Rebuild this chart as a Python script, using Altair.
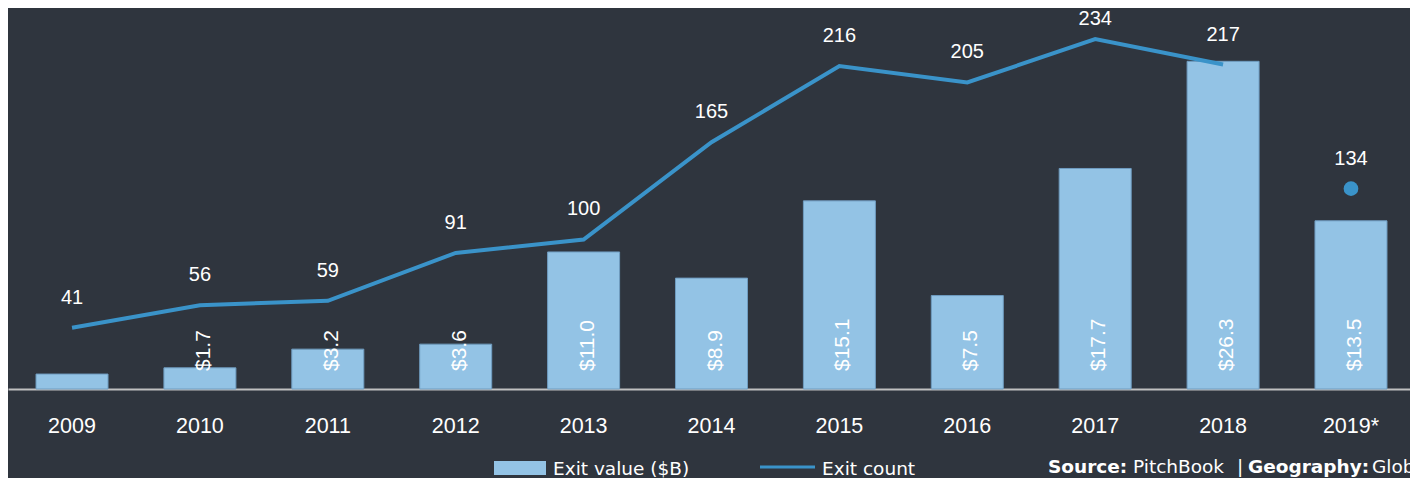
import altair as alt
import pandas as pd

# ---- data ----
years = ["2009", "2010", "2011", "2012", "2013", "2014", "2015", "2016", "2017", "2018", "2019*"]
exit_value = [1.2, 1.7, 3.2, 3.6, 11.0, 8.9, 15.1, 7.5, 17.7, 26.3, 13.5]
exit_count = [41, 56, 59, 91, 100, 165, 216, 205, 234, 217, 134]
partial_years = ["2019*"]
legend_labels = ["Exit value ($B)", "Exit count"]
source_parts = ["Source:", "PitchBook", "|", "Geography:", "Global"]

# ---- style ----
BG = "#2f353e"
BAR = "#93c3e5"
BAR_EDGE = "#6f9cc0"
LINE = "#3a93c9"
TXT = "#ffffff"
FONT = "Liberation Sans, Arial, sans-serif"
LFONT = "DejaVu Sans, sans-serif"

W, H = 1402, 381
VALUE_MAX = 30.58
COUNT_MAX = 254.8

df = pd.DataFrame({"year": years, "value": exit_value, "count": exit_count})
df["partial"] = df["year"].isin(partial_years)

x = alt.X(
    "year:N", sort=years,
    scale=alt.Scale(paddingInner=0.437, paddingOuter=0.1995, align=0.549),
    axis=alt.Axis(title=None, labelAngle=0, ticks=False, tickSize=0, grid=False,
                  domainColor="#c0c0c0", domainWidth=2, labelColor=TXT,
                  labelFont=FONT, labelFontSize=21.5, labelPadding=26),
)
value_scale = alt.Scale(domain=[0, VALUE_MAX], nice=False, zero=True)
count_scale = alt.Scale(domain=[0, COUNT_MAX], nice=False, zero=True)

base = alt.Chart(df)

bars = base.mark_bar(color=BAR, stroke=BAR_EDGE, strokeWidth=1).encode(
    x=x, y=alt.Y("value:Q", scale=value_scale, axis=None)
)

bar_labels = (
    base.transform_filter("datum.value >= 1.5")
    .transform_calculate(lab="'$' + format(datum.value, '.1f')")
    .mark_text(angle=270, align="left", baseline="middle", dy=4,
               font=FONT, fontSize=21, color=TXT)
    .encode(x=x, y=alt.value(H - 18), text="lab:N")
)

line = (
    base.transform_filter("!datum.partial")
    .mark_line(color=LINE, strokeWidth=4)
    .encode(x=x, y=alt.Y("count:Q", scale=count_scale, axis=None))
)

point = (
    base.transform_filter("datum.partial")
    .mark_circle(size=216, color=LINE, opacity=1)
    .encode(x=x, y=alt.Y("count:Q", scale=count_scale, axis=None))
)

count_labels = (
    base.transform_calculate(ly="min(datum.count, 227.3)")
    .mark_text(dy=-30, baseline="middle", align="center",
               font=FONT, fontSize=20, color=TXT)
    .encode(x=x, y=alt.Y("ly:Q", scale=count_scale, axis=None), text="count:Q")
)

one = alt.Chart(pd.DataFrame({"k": [0]}))

leg_rect = one.mark_rect(color=BAR).encode(
    x=alt.value(486), x2=alt.value(538), y=alt.value(453), y2=alt.value(467)
)
leg_line = one.mark_rule(color=LINE, strokeWidth=3).encode(
    x=alt.value(752), x2=alt.value(807), y=alt.value(459)
)
leg_t1 = one.mark_text(align="left", baseline="middle", font=LFONT, fontSize=18.5, color=TXT).encode(
    x=alt.value(545), y=alt.value(461), text=alt.value(legend_labels[0])
)
leg_t2 = one.mark_text(align="left", baseline="middle", font=LFONT, fontSize=18.5, color=TXT).encode(
    x=alt.value(814), y=alt.value(461), text=alt.value(legend_labels[1])
)

src_x = [1040, 1125, 1229, 1240, 1364]
src_bold = ["bold", "normal", "normal", "bold", "normal"]
src_layers = [
    one.mark_text(align="left", baseline="middle", font=LFONT, fontSize=18.5,
                  fontWeight=w, color=TXT).encode(
        x=alt.value(px), y=alt.value(459), text=alt.value(t))
    for t, px, w in zip(source_parts, src_x, src_bold)
]

chart = (
    alt.layer(bars, bar_labels, line, point, count_labels,
              leg_rect, leg_line, leg_t1, leg_t2, *src_layers)
    .resolve_scale(y="independent")
    .properties(
        width=W, height=H, background=BG,
        padding={"left": 0, "top": 0, "right": 0, "bottom": 89},
        autosize=alt.AutoSizeParams(type="none"),
    )
    .configure_view(stroke=None)
)

chart.save("out.html", embed_options={"renderer": "svg", "actions": False})
